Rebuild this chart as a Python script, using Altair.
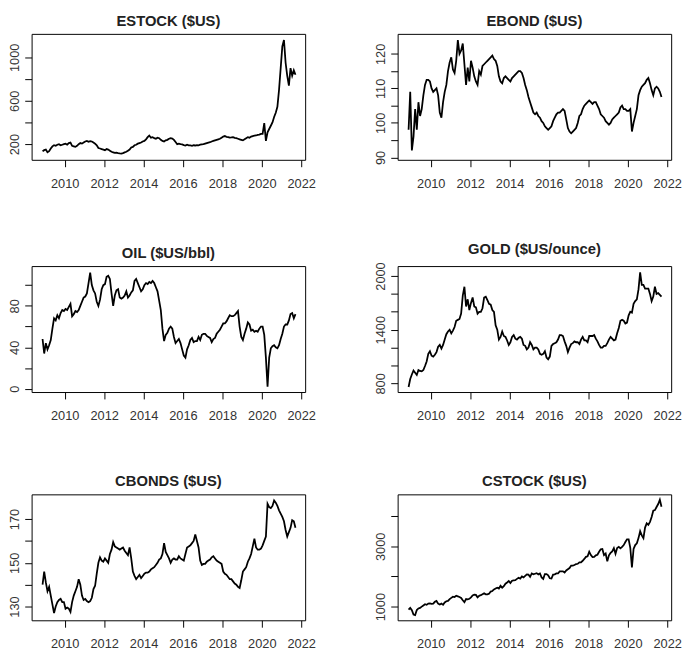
import altair as alt
import pandas as pd

# Monthly observations, first one = November 2008
START_YEAR = 2008
START_MONTH = 11

estock = [135, 145,
          150, 125, 135, 160, 180, 190, 185, 195, 200, 190, 195, 200,
          205, 195, 210, 215, 185, 180, 175, 185, 200, 210, 205, 215,
          225, 230, 222, 228, 225, 215, 205, 190, 165, 160, 155, 150,
          145, 155, 150, 140, 130, 125, 120, 122, 118, 115, 113, 118,
          125, 130, 140, 150, 170, 175, 190, 195, 205, 210, 215, 225,
          230, 245, 265, 280, 260, 265, 255, 250, 260, 255, 240, 230,
          225, 235, 240, 250, 255, 252, 240, 220, 200, 205, 200, 198,
          192, 188, 195, 190, 188, 185, 190, 188, 192, 190, 195, 198,
          200, 205, 210, 215, 218, 225, 230, 235, 240, 245, 250, 260,
          270, 275, 268, 265, 260, 262, 265, 258, 255, 250, 245, 240,
          235, 245, 255, 265, 260, 270, 275, 278, 280, 285, 288, 295,
          295, 395, 230, 310, 340, 370, 400, 450, 490, 545, 700, 900,
          1100, 1160, 950, 830, 740, 900, 830, 880, 840]

ebond = [98, 109,
         92, 96, 104, 98, 106, 102, 104, 108, 111, 112.5, 112.5, 112,
         110, 109, 109.5, 110, 108, 103, 101.5, 106, 109, 111, 115, 117.5,
         119, 115.5, 114.5, 118, 124, 120, 121, 123, 117, 111, 116, 112,
         118, 116, 113.5, 112, 111, 115, 114, 116.5, 117, 117.5, 118, 118.5,
         119, 119.5, 118.5, 118, 116.5, 113.5, 112, 111.5, 113, 113.5, 113, 112.5,
         112, 113, 113.5, 114, 114.5, 115, 115, 114.5, 113, 111, 109.5, 107.5,
         106, 104.5, 103, 102.5, 103, 102, 101.5, 100.5, 100, 99, 98.5, 98,
         98.5, 99, 100.5, 101.5, 102.5, 103, 103, 103.5, 104, 103.5, 101, 98.5,
         97.5, 97, 97.5, 98, 98.5, 100, 102, 102.5, 104, 105, 105.5, 106,
         106.5, 106, 105.5, 106, 106, 105, 104, 102.5, 102, 101.5, 100.5, 100,
         99.5, 100, 101, 101.5, 102, 102.5, 103, 104.5, 105, 104, 104, 103.5,
         103.5, 104, 97.5, 100, 102, 104, 108, 109.5, 110.5, 111, 111.5, 112.5,
         113, 111.5, 109.5, 108, 110, 110.5, 110, 109, 107.5]

oil = [48, 34,
       44, 38, 42, 47, 58, 68, 66, 71, 68, 73, 76, 75,
       77, 76, 79, 82, 70, 72, 75, 74, 76, 80, 84, 88,
       89, 92, 102, 112, 100, 95, 92, 84, 80, 86, 96, 100,
       101, 108, 109, 106, 92, 80, 90, 95, 96, 88, 87, 88,
       90, 94, 88, 90, 93, 95, 104, 106, 102, 98, 94, 96,
       100, 102, 101, 103, 102, 104, 102, 98, 94, 85, 76, 58,
       46, 52, 54, 58, 60, 58, 50, 44, 46, 48, 44, 38,
       32, 30, 38, 42, 47, 49, 45, 46, 46, 50, 47, 52,
       53, 53, 51, 50, 49, 45, 48, 49, 53, 55, 57, 60,
       63, 63, 65, 68, 71, 70, 70, 71, 73, 75, 60, 50,
       47, 53, 58, 64, 62, 56, 57, 55, 56, 55, 58, 60,
       60, 52, 30, 2, 30, 39, 41, 42, 40, 39, 42, 48,
       53, 60, 62, 62, 66, 72, 73, 68, 72]

gold = [760, 850,
        900, 945, 920, 895, 950, 940, 935, 950, 995, 1045, 1130, 1160,
        1110, 1100, 1120, 1150, 1210, 1230, 1190, 1230, 1290, 1350, 1380, 1400,
        1360, 1390, 1430, 1500, 1510, 1520, 1580, 1780, 1880, 1660, 1740, 1620,
        1700, 1760, 1660, 1650, 1580, 1600, 1600, 1640, 1760, 1770, 1730, 1690,
        1680, 1620, 1600, 1450, 1400, 1290, 1320, 1380, 1330, 1320, 1280, 1230,
        1260, 1320, 1340, 1300, 1290, 1310, 1320, 1300, 1230, 1220, 1180, 1200,
        1260, 1230, 1180, 1200, 1200, 1180, 1130, 1120, 1130, 1160, 1090, 1070,
        1100, 1220, 1240, 1250, 1260, 1290, 1340, 1340, 1330, 1270, 1220, 1150,
        1200, 1240, 1250, 1270, 1260, 1260, 1240, 1290, 1320, 1280, 1280, 1260,
        1330, 1330, 1330, 1340, 1300, 1270, 1230, 1200, 1200, 1220, 1220, 1250,
        1290, 1320, 1300, 1280, 1290, 1360, 1420, 1500, 1510, 1500, 1470, 1480,
        1560, 1600, 1590, 1690, 1720, 1740, 1850, 2040, 1900, 1900, 1860, 1860,
        1860, 1800, 1720, 1770, 1880, 1800, 1810, 1790, 1770]

cbonds = [140, 146,
          141, 137, 139, 135, 131, 127, 130, 132, 133, 133.5, 132, 132,
          129, 129.5, 129, 127.5, 132, 135, 137, 139, 142.5, 140, 135, 133,
          133.5, 132.5, 132, 132.5, 134, 138, 139.5, 145, 150, 152.5, 151, 150.5,
          152, 151, 150, 154, 156, 159.5, 157.5, 157, 156.5, 156, 156.5, 157,
          155.5, 154.5, 153.5, 157, 152, 146, 144, 142.5, 143.5, 144.5, 143, 144,
          145, 145.5, 145.5, 146, 147, 147.5, 148, 149, 150, 151.5, 152, 154,
          159, 155, 153.5, 152, 150, 151.5, 152, 151.5, 151.5, 153, 152, 151.5,
          151, 154, 157, 157.5, 158, 159, 160, 163, 160, 157, 151, 149,
          149.5, 149.5, 150.5, 151, 151.5, 152.5, 153, 152, 151, 150.5, 150, 149.5,
          146, 145, 144.5, 143.5, 142.5, 142.5, 141.5, 140.5, 140, 139, 138.5, 142,
          146, 147, 148, 150.5, 152, 154, 157.5, 161, 157, 156, 156, 156.5,
          158, 160, 162, 177, 175.5, 175, 176, 178.5, 177.5, 176, 174, 172.5,
          171, 169, 165, 162, 164, 166, 169.5, 169, 166]

cstock = [900, 960,
          880, 740, 720, 890, 940, 960, 1000, 1040, 1080, 1060, 1100, 1110,
          1090, 1100, 1160, 1190, 1100, 1070, 1100, 1060, 1140, 1180, 1190, 1250,
          1290, 1330, 1320, 1360, 1340, 1320, 1290, 1210, 1150, 1250, 1240, 1260,
          1310, 1370, 1400, 1390, 1310, 1360, 1380, 1410, 1440, 1410, 1410, 1430,
          1500, 1520, 1570, 1600, 1630, 1600, 1690, 1630, 1680, 1760, 1800, 1850,
          1780, 1860, 1870, 1880, 1920, 1960, 1930, 2000, 1970, 2020, 2070, 2060,
          1990, 2100, 2070, 2090, 2110, 2070, 2100, 1970, 1920, 2080, 2080, 2040,
          1940, 1930, 2060, 2070, 2100, 2100, 2170, 2170, 2170, 2130, 2200, 2240,
          2280, 2360, 2360, 2380, 2410, 2420, 2470, 2470, 2520, 2580, 2650, 2670,
          2820, 2710, 2640, 2650, 2700, 2720, 2820, 2900, 2910, 2710, 2760, 2500,
          2700, 2780, 2830, 2940, 2750, 2940, 2980, 2930, 2980, 3040, 3140, 3230,
          3230, 2950, 2300, 2910, 3040, 3100, 3270, 3500, 3360, 3270, 3620, 3760,
          3710, 3810, 3970, 4180, 4200, 4300, 4400, 4540, 4310]

titles = ["ESTOCK ($US)", "EBOND ($US)", "OIL ($US/bbl)",
          "GOLD ($US/ounce)", "CBONDS ($US)", "CSTOCK ($US)"]
series = [estock, ebond, oil, gold, cbonds, cstock]
y_domains = [[56, 1216], [89.3, 125.8], [-3.2, 118.4],
             [704, 2111], [123.7, 181.3], [548, 4720]]
y_ticks = [[200, 400, 600, 800, 1000],
           [90, 95, 100, 105, 110, 115, 120],
           [0, 20, 40, 60, 80, 100],
           [800, 1000, 1200, 1400, 1600, 1800, 2000],
           [130, 140, 150, 160, 170],
           [1000, 2000, 3000, 4000]]
y_labels = [[200, 600, 1000], [90, 100, 110, 120], [0, 40, 80],
            [800, 1400, 2000], [130, 150, 170], [1000, 3000]]
x_ticks = [2010, 2012, 2014, 2016, 2018, 2020, 2022]
x_domain = [2008.32, 2022.2]

FONT = "Liberation Sans"


def panel(title, values, ydom, yt, yl):
    t = [START_YEAR + (START_MONTH - 1 + i + 0.5) / 12 for i in range(len(values))]
    df = pd.DataFrame({"t": t, "v": values})
    shown = ",".join(str(v) for v in yl)
    return alt.Chart(df).mark_line(color="black", strokeWidth=1.8, clip=True).encode(
        x=alt.X("t:Q", scale=alt.Scale(domain=x_domain, nice=False, zero=False),
                axis=alt.Axis(values=x_ticks, format="d", title=None,
                              labelPadding=11)),
        y=alt.Y("v:Q", scale=alt.Scale(domain=ydom, nice=False, zero=False),
                axis=alt.Axis(values=yt, format="d", title=None, labelAngle=-90,
                              labelAlign="center", labelBaseline="bottom",
                              labelPadding=3,
                              labelExpr=f"indexof([{shown}], datum.value) >= 0 ? datum.label : ''")),
    ).properties(width=278, height=128, title=title)


panels = [panel(*args) for args in zip(titles, series, y_domains, y_ticks, y_labels)]

rows = [alt.hconcat(panels[i], panels[i + 1], spacing=59) for i in (0, 2, 4)]
chart = alt.vconcat(*rows, spacing=51).properties(padding=0).configure_view(
    stroke="black", strokeWidth=1
).configure_axis(
    domain=False, grid=False, tickColor="black", tickSize=7, tickWidth=1,
    labelFont=FONT, labelFontSize=13, labelColor="#333"
).configure_title(
    font=FONT, fontSize=15, fontWeight="bold", color="#222", offset=5, anchor="middle"
)

chart.save("out.html", embed_options={"renderer": "svg", "actions": False})
